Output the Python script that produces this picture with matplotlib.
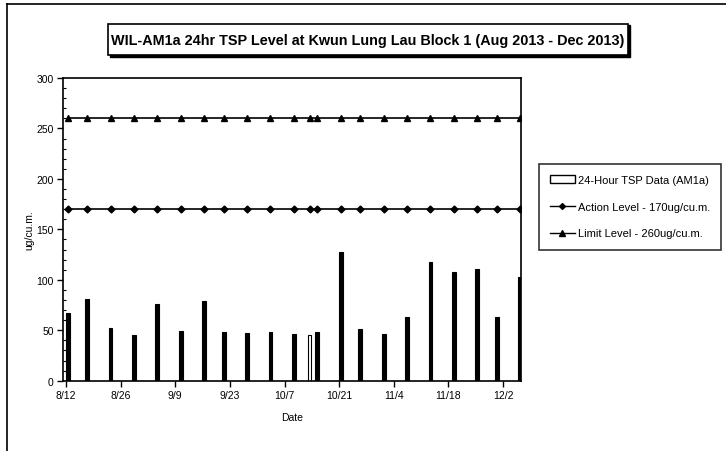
import numpy as np
import pandas as pd
import matplotlib
matplotlib.use("Agg")
import matplotlib.pyplot as plt
import matplotlib.dates as mdates
from matplotlib.lines import Line2D
from matplotlib.patches import Patch, Rectangle

plt.rcParams['font.family'] = ['Liberation Sans', 'DejaVu Sans']

# sampling dates and 24-hr TSP results (ug/cu.m.)
dates = ['2013-08-12', '2013-08-17', '2013-08-23', '2013-08-29', '2013-09-04',
         '2013-09-10', '2013-09-16', '2013-09-21', '2013-09-27', '2013-10-03',
         '2013-10-09', '2013-10-13', '2013-10-15', '2013-10-21', '2013-10-26',
         '2013-11-01', '2013-11-07', '2013-11-13', '2013-11-19', '2013-11-25',
         '2013-11-30', '2013-12-06']
tsp = [67, 81, 52, 45, 76, 49, 79, 48, 47, 48, 46, 45, 48,
       128, 51, 46, 63, 118, 108, 111, 63, 103]
action_level = 170
limit_level = 260
tick_dates = ['2013-08-12', '2013-08-26', '2013-09-09', '2013-09-23', '2013-10-07',
              '2013-10-21', '2013-11-04', '2013-11-18', '2013-12-02']
tick_labels = ['8/12', '8/26', '9/9', '9/23', '10/7', '10/21', '11/4', '11/18', '12/2']

x = mdates.date2num(pd.to_datetime(dates)) + 0.4
xt = mdates.date2num(pd.to_datetime(tick_dates))

fig = plt.figure(figsize=(7.26, 4.52), dpi=100)
ax = fig.add_axes([0.0872, 0.1555, 0.6304, 0.6697])

# bars
colors = ['black'] * len(tsp)
colors[11] = 'white'
ax.bar(x, tsp, width=1.0, color=colors, edgecolor='black', linewidth=0.8, zorder=2)

# action / limit lines
ax.plot(x, [action_level] * len(x), color='black', lw=1.2, marker='D', ms=3.5, zorder=3)
ax.plot(x, [limit_level] * len(x), color='black', lw=1.2, marker='^', ms=4.5, zorder=3)

ax.set_xlim(xt[0] - 0.7, x[-1] + 0.2)
ax.set_ylim(0, 300)
ax.set_yticks(np.arange(0, 301, 50))
ax.set_yticks(np.arange(0, 301, 10), minor=True)
ax.set_xticks(xt)
ax.set_xticklabels(tick_labels)
ax.tick_params(axis='both', which='major', direction='out', length=4, width=1,
               labelsize=7.5, pad=3)
ax.tick_params(axis='y', which='minor', direction='in', length=2.5, width=0.8)
for s in ax.spines.values():
    s.set_linewidth(1.2)
ax.set_xlabel('Date', fontsize=7.5, labelpad=8)
ax.set_ylabel('ug/cu.m.', fontsize=7.5, labelpad=1)

# title in a shadowed box
fig.patches.append(Rectangle((110 / 726, 1 - 58 / 452), 520 / 726, 32 / 452,
                             transform=fig.transFigure, facecolor='black',
                             edgecolor='black', zorder=1))
fig.patches.append(Rectangle((108 / 726, 1 - 56 / 452), 520 / 726, 31 / 452,
                             transform=fig.transFigure, facecolor='white',
                             edgecolor='black', lw=1.2, zorder=2))
fig.text(368 / 726, 1 - 41 / 452,
         'WIL-AM1a 24hr TSP Level at Kwun Lung Lau Block 1 (Aug 2013 - Dec 2013)',
         ha='center', va='center', fontsize=10.4, fontweight='bold', zorder=3)

# legend
handles = [Patch(facecolor='white', edgecolor='black', lw=1.0),
           Line2D([], [], color='black', lw=1.0, marker='D', ms=3),
           Line2D([], [], color='black', lw=1.0, marker='^', ms=4)]
labels = ['24-Hour TSP Data (AM1a)', 'Action Level - 170ug/cu.m.',
          'Limit Level - 260ug/cu.m.']
leg = fig.legend(handles, labels, loc='upper left',
                 bbox_to_anchor=(539 / 726, 1 - 165 / 452), fontsize=8,
                 frameon=True, fancybox=False, edgecolor='black',
                 handlelength=2.2, handletextpad=0.3, labelspacing=1.5,
                 borderpad=1.0, borderaxespad=0)
leg.get_frame().set_linewidth(1.2)

# outer chart border (left and top edges visible)
fig.add_artist(Line2D([7 / 726, 7 / 726], [0, 1 - 5 / 452], color='black',
                      lw=1.2, transform=fig.transFigure))
fig.add_artist(Line2D([7 / 726, 1], [1 - 5 / 452, 1 - 5 / 452], color='black',
                      lw=1.2, transform=fig.transFigure))

fig.savefig('out.png', dpi=100)
